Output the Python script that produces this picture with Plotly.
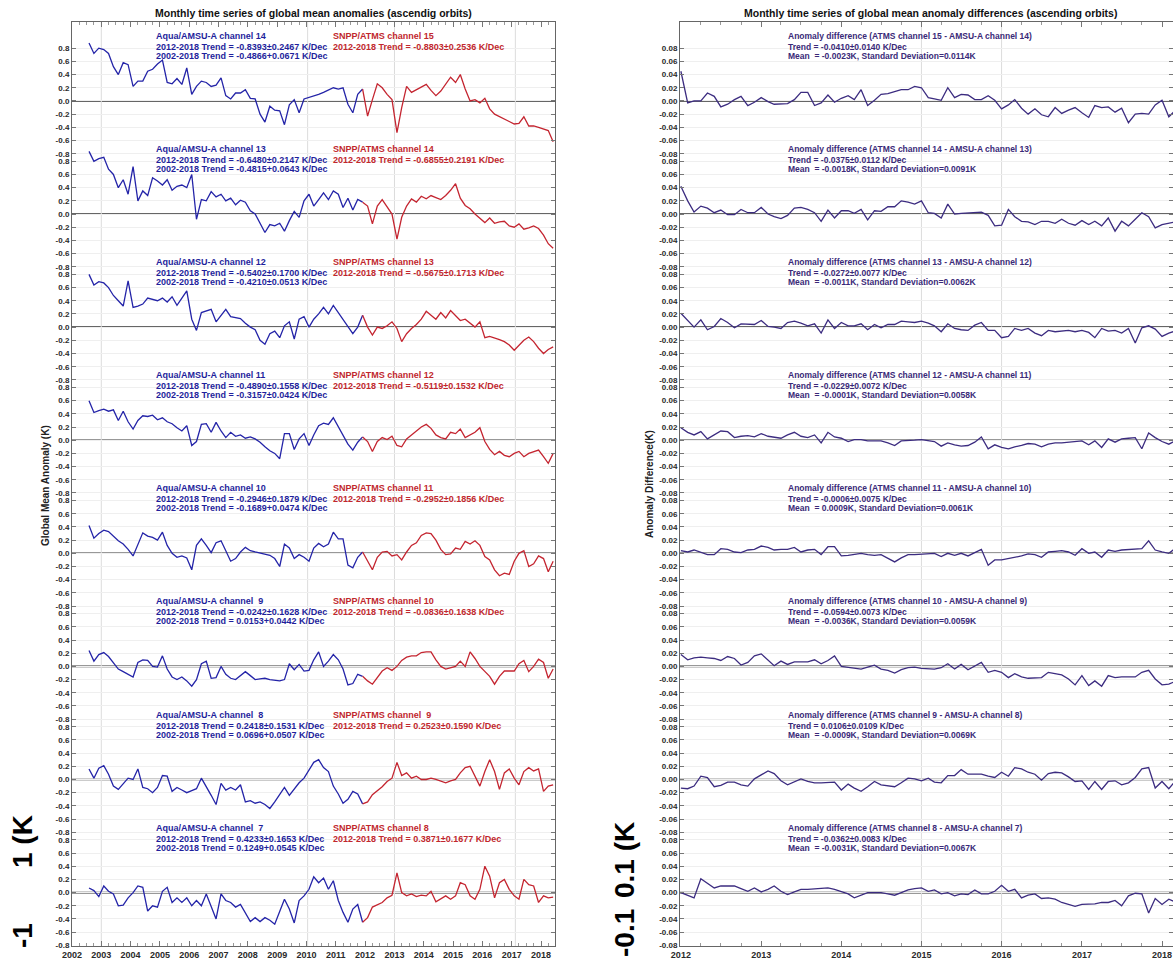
import pandas as pd
import plotly.graph_objects as go

W, H = 1173, 960

# ---------------- data ----------------
aqua_dates = pd.date_range("2002-08-01", periods=57, freq="2MS")
atms_dates = pd.date_range("2011-12-01", periods=40, freq="2MS")
diff_dates = pd.date_range("2012-01-01", periods=75, freq="MS")

aqua_ch14 = [0.88, 0.72, 0.80, 0.78, 0.72, 0.52, 0.40, 0.58, 0.55, 0.22,
             0.30, 0.30, 0.45, 0.48, 0.56, 0.62, 0.28, 0.26, 0.34, 0.25,
             0.50, 0.10, 0.22, 0.30, 0.28, 0.22, 0.24, 0.35, 0.08, 0.03,
             0.12, 0.12, 0.17, 0.04, 0.03, -0.20, -0.32, -0.08, -0.14, -0.15,
             -0.36, -0.06, 0.02, -0.18, 0.03, 0.05, 0.08, 0.10, 0.13, 0.17,
             0.20, 0.18, 0.20, -0.05, -0.18, 0.10, 0.18]
atms_ch15 = [0.18, -0.23, 0.02, 0.26, 0.20, 0.10, 0.02, -0.48, -0.10, 0.22,
             0.13, 0.17, 0.22, 0.25, 0.16, 0.08, 0.15, 0.26, 0.36, 0.28,
             0.40, 0.18, 0.00, 0.02, -0.03, 0.04, -0.12, -0.20, -0.24, -0.28,
             -0.32, -0.35, -0.34, -0.24, -0.38, -0.38, -0.40, -0.42, -0.45, -0.62]

aqua_ch13 = [0.95, 0.80, 0.84, 0.86, 0.68, 0.60, 0.40, 0.52, 0.30, 0.72,
             0.20, 0.35, 0.28, 0.55, 0.50, 0.44, 0.52, 0.36, 0.42, 0.44,
             0.40, 0.60, -0.08, 0.22, 0.20, 0.34, 0.26, 0.30, 0.20, 0.24,
             0.14, 0.21, 0.18, 0.05, 0.00, -0.14, -0.28, -0.16, -0.18, -0.14,
             -0.26, -0.10, 0.04, -0.05, 0.20, 0.30, 0.12, 0.22, 0.32, 0.22,
             0.35, 0.30, 0.10, 0.24, 0.06, 0.22, 0.18]
atms_ch14 = [0.18, 0.12, -0.15, 0.12, 0.22, 0.10, 0.00, -0.38, -0.05, 0.12,
             0.23, 0.18, 0.27, 0.23, 0.28, 0.25, 0.22, 0.28, 0.36, 0.46,
             0.24, 0.13, 0.08, 0.00, -0.06, -0.13, -0.06, -0.14, -0.12, -0.11,
             -0.18, -0.20, -0.15, -0.23, -0.21, -0.18, -0.22, -0.32, -0.45, -0.52]

aqua_ch12 = [0.80, 0.64, 0.69, 0.67, 0.60, 0.48, 0.40, 0.32, 0.70, 0.30,
             0.32, 0.35, 0.44, 0.42, 0.40, 0.44, 0.38, 0.46, 0.33, 0.44,
             0.55, 0.12, -0.05, 0.22, 0.24, 0.27, 0.08, 0.18, 0.27, 0.16,
             0.14, 0.13, 0.06, 0.00, -0.04, -0.20, -0.26, -0.10, -0.06, -0.16,
             0.02, 0.08, -0.18, 0.12, 0.16, 0.00, 0.12, 0.20, 0.30, 0.20,
             0.33, 0.22, 0.10, 0.00, -0.10, 0.00, 0.18]
atms_ch13 = [0.18, 0.00, -0.12, 0.00, -0.02, 0.02, 0.08, -0.02, -0.22, -0.10,
             -0.02, 0.04, 0.12, 0.24, 0.18, 0.12, 0.22, 0.14, 0.25, 0.18,
             0.10, 0.12, 0.06, 0.00, 0.08, -0.16, -0.14, -0.16, -0.19, -0.22,
             -0.27, -0.35, -0.28, -0.20, -0.15, -0.22, -0.32, -0.40, -0.34, -0.30]

aqua_ch11 = [0.60, 0.42, 0.45, 0.47, 0.44, 0.46, 0.30, 0.44, 0.28, 0.17,
             0.30, 0.37, 0.36, 0.38, 0.31, 0.34, 0.28, 0.25, 0.19, 0.14,
             0.22, -0.08, -0.02, 0.24, 0.25, 0.12, 0.27, 0.14, 0.04, 0.12,
             0.06, 0.08, 0.03, 0.05, 0.02, -0.03, -0.10, -0.16, -0.20, -0.28,
             0.10, 0.10, -0.14, 0.02, 0.10, -0.08, 0.08, 0.22, 0.26, 0.24,
             0.34, 0.20, 0.06, -0.06, -0.15, -0.03, 0.05]
atms_ch12 = [0.05, -0.02, -0.17, -0.02, 0.04, 0.01, 0.06, -0.08, -0.10, 0.02,
             0.08, 0.14, 0.20, 0.24, 0.18, 0.08, 0.04, 0.02, 0.12, 0.10,
             0.17, 0.04, 0.08, 0.12, 0.19, -0.02, -0.14, -0.22, -0.17, -0.23,
             -0.25, -0.20, -0.17, -0.25, -0.20, -0.17, -0.15, -0.25, -0.35, -0.20]

aqua_ch10 = [0.42, 0.23, 0.30, 0.35, 0.33, 0.26, 0.19, 0.14, 0.06, -0.04,
             0.12, 0.31, 0.26, 0.24, 0.20, 0.32, 0.12, 0.00, -0.06, -0.04,
             -0.07, -0.25, 0.12, 0.22, 0.12, 0.01, 0.16, 0.19, 0.04, -0.12,
             -0.08, 0.02, 0.09, 0.04, 0.02, 0.00, -0.01, -0.03, -0.08, -0.20,
             0.14, 0.08, -0.08, -0.02, -0.06, -0.12, 0.08, 0.15, 0.10, 0.14,
             0.32, 0.22, 0.22, -0.18, -0.22, -0.06, 0.02]
atms_ch11 = [0.02, -0.12, -0.25, -0.06, 0.02, 0.03, -0.04, -0.02, -0.10, 0.02,
             0.12, 0.16, 0.27, 0.31, 0.30, 0.20, 0.06, -0.02, -0.01, 0.08,
             0.06, 0.18, 0.14, 0.19, 0.12, -0.05, -0.10, -0.25, -0.34, -0.30,
             -0.32, -0.12, 0.00, 0.04, -0.20, -0.16, -0.04, -0.08, -0.28, -0.12]

aqua_ch9 = [0.24, 0.08, 0.18, 0.21, 0.15, 0.06, -0.04, -0.08, -0.12, -0.16,
            0.06, 0.10, 0.09, 0.00, -0.01, 0.16, -0.04, -0.16, -0.20, -0.16,
            -0.22, -0.30, -0.20, 0.04, 0.08, -0.18, -0.17, 0.00, -0.12, -0.18,
            -0.20, -0.14, -0.08, -0.14, -0.20, -0.19, -0.18, -0.20, -0.21, -0.22,
            -0.20, 0.04, -0.05, 0.03, -0.07, -0.06, 0.10, 0.22, 0.00, 0.08,
            0.18, 0.10, -0.04, -0.28, -0.26, -0.12, -0.15]
atms_ch10 = [-0.15, -0.22, -0.27, -0.16, -0.07, -0.02, -0.06, 0.00, 0.09, 0.14,
             0.16, 0.16, 0.21, 0.22, 0.22, 0.10, 0.00, -0.04, -0.02, 0.00,
             0.08, 0.00, 0.22, 0.12, 0.00, -0.08, -0.15, -0.27, -0.15, -0.07,
             -0.07, -0.07, 0.04, 0.09, -0.08, 0.00, 0.11, 0.06, -0.18, -0.04]

aqua_ch8 = [0.16, 0.02, 0.17, 0.21, 0.08, -0.10, -0.15, -0.06, 0.02, 0.00,
            0.16, -0.12, -0.14, -0.20, -0.12, 0.06, 0.05, -0.18, -0.12, -0.16,
            -0.20, -0.17, -0.14, 0.02, -0.10, -0.24, -0.38, -0.06, -0.16, -0.12,
            -0.16, -0.08, -0.34, -0.32, -0.36, -0.34, -0.38, -0.44, -0.34, -0.22,
            -0.12, -0.24, -0.15, -0.05, 0.02, 0.14, 0.26, 0.30, 0.18, 0.12,
            -0.10, -0.22, -0.36, -0.30, -0.18, -0.22, -0.37]
atms_ch9 = [-0.37, -0.34, -0.23, -0.17, -0.11, -0.03, 0.02, 0.26, 0.06, 0.10,
            0.02, 0.05, 0.00, 0.00, 0.02, 0.00, -0.03, -0.05, -0.02, 0.00,
            0.10, 0.18, 0.20, 0.05, -0.10, 0.12, 0.30, 0.12, -0.15, 0.10,
            0.16, 0.02, -0.08, 0.12, 0.18, 0.13, 0.16, -0.18, -0.10, -0.08]

aqua_ch7 = [0.07, 0.03, -0.06, 0.10, 0.02, -0.02, -0.20, -0.19, -0.08, 0.00,
            0.10, 0.08, -0.28, -0.20, -0.22, 0.02, 0.08, -0.15, -0.08, -0.15,
            -0.08, -0.20, -0.12, -0.20, -0.02, -0.22, -0.40, -0.02, -0.12, -0.15,
            -0.22, -0.18, -0.32, -0.44, -0.38, -0.44, -0.38, -0.42, -0.48, -0.30,
            -0.10, -0.25, -0.46, -0.12, -0.05, 0.05, 0.24, 0.15, 0.22, 0.05,
            0.18, -0.12, -0.30, -0.45, -0.25, -0.18, -0.45]
atms_ch8 = [-0.45, -0.38, -0.22, -0.18, -0.15, -0.08, -0.04, 0.30, 0.00, -0.05,
            -0.02, -0.06, -0.04, -0.05, 0.02, -0.14, -0.10, -0.05, -0.10, -0.05,
            0.15, 0.12, -0.05, -0.10, 0.05, 0.40, 0.25, -0.08, 0.15, 0.20,
            0.05, -0.05, -0.10, 0.20, 0.12, 0.10, -0.15, -0.05, -0.08, -0.07]

diff_15_14 = [0.045, -0.003, 0.000, 0.000, 0.012, 0.007, -0.009, -0.005, 0.002, 0.007,
              -0.007, -0.002, 0.005, -0.001, -0.005, -0.005, -0.004, 0.002, 0.013, 0.013,
              -0.007, -0.003, 0.009, -0.002, 0.004, 0.008, 0.002, 0.017, -0.007, 0.001,
              0.010, 0.011, 0.014, 0.017, 0.017, 0.022, 0.020, 0.005, 0.003, 0.001,
              0.020, 0.005, 0.010, 0.009, 0.002, 0.002, 0.008, 0.001, -0.012, -0.006,
              0.002, -0.011, -0.020, -0.012, -0.021, -0.024, -0.010, -0.019, -0.014, -0.010,
              -0.018, -0.025, -0.007, -0.010, -0.009, -0.017, -0.011, -0.033, -0.020, -0.019,
              -0.020, -0.006, 0.001, -0.024, -0.015]
diff_14_13 = [0.042, 0.020, 0.003, 0.012, 0.009, 0.002, 0.006, -0.001, -0.001, 0.007,
              0.002, 0.002, 0.010, 0.000, -0.004, -0.007, -0.002, 0.009, 0.010, 0.007,
              0.002, -0.011, 0.006, -0.006, 0.005, 0.005, 0.001, 0.007, -0.009, 0.005,
              0.004, 0.011, 0.011, 0.020, 0.018, 0.015, 0.020, 0.002, 0.001, -0.006,
              0.015, 0.000, 0.001, 0.002, 0.002, 0.003, -0.002, -0.018, -0.017, 0.007,
              -0.004, -0.011, -0.012, -0.016, -0.011, -0.011, -0.014, -0.008, -0.014, -0.017,
              -0.010, -0.016, -0.011, -0.018, -0.006, -0.026, -0.011, -0.018, -0.008, 0.002,
              -0.004, -0.021, -0.016, -0.014, -0.012]
diff_13_12 = [0.021, 0.010, 0.000, 0.011, -0.004, 0.001, 0.013, 0.007, -0.001, 0.005,
              0.005, 0.004, 0.010, 0.001, 0.000, -0.002, 0.007, 0.009, 0.006, 0.002,
              0.005, -0.009, 0.011, -0.002, 0.007, 0.002, 0.002, 0.005, -0.004, 0.004,
              -0.001, 0.004, 0.004, 0.009, 0.008, 0.007, 0.009, 0.006, 0.002, -0.007,
              0.005, -0.002, -0.004, -0.005, 0.003, 0.007, -0.005, -0.005, -0.016, -0.014,
              -0.002, -0.005, -0.002, -0.009, -0.013, -0.005, -0.007, -0.006, -0.005, -0.007,
              -0.005, -0.008, -0.016, -0.002, -0.006, -0.005, -0.009, -0.002, -0.024, -0.001,
              0.002, -0.003, -0.014, -0.009, -0.006]
diff_12_11 = [0.019, 0.012, 0.008, 0.013, 0.002, 0.008, 0.014, 0.013, 0.004, 0.006,
              0.007, 0.005, 0.010, 0.006, 0.005, 0.003, 0.008, 0.012, 0.006, 0.004,
              0.008, -0.004, 0.012, 0.005, 0.003, -0.002, 0.001, 0.001, -0.001, -0.001,
              -0.001, -0.004, -0.008, -0.001, -0.001, 0.000, 0.001, -0.001, -0.002, -0.009,
              -0.004, -0.007, -0.009, -0.008, -0.003, 0.005, -0.013, -0.007, -0.011, -0.013,
              -0.010, -0.008, -0.005, -0.006, -0.010, -0.006, -0.004, -0.004, -0.003, -0.003,
              -0.001, -0.007, -0.001, -0.011, 0.002, -0.003, 0.002, 0.003, 0.004, -0.013,
              0.011, 0.004, -0.002, -0.006, -0.001]
diff_11_10 = [0.004, 0.002, 0.005, 0.002, -0.002, -0.002, 0.007, 0.006, 0.002, 0.001,
              0.005, 0.006, 0.011, 0.009, 0.005, 0.006, 0.006, 0.009, 0.002, 0.005,
              0.006, -0.002, 0.010, 0.010, -0.004, -0.003, -0.002, 0.000, -0.002, -0.003,
              -0.002, -0.007, -0.013, -0.007, -0.002, -0.002, -0.001, -0.001, 0.000, -0.005,
              0.000, -0.003, 0.000, -0.004, 0.001, 0.006, -0.018, -0.010, -0.010, -0.008,
              -0.006, -0.004, -0.001, -0.002, -0.006, 0.002, 0.003, 0.004, 0.002, -0.003,
              0.007, 0.000, 0.002, -0.006, 0.005, 0.003, 0.005, 0.006, 0.007, 0.007,
              0.019, 0.005, 0.002, 0.000, 0.007]
diff_10_9 = [0.018, 0.010, 0.013, 0.014, 0.013, 0.012, 0.009, 0.015, 0.012, 0.002,
             0.006, 0.016, 0.019, 0.010, 0.001, 0.008, 0.003, 0.007, 0.007, 0.007,
             0.010, 0.004, 0.009, 0.016, 0.000, -0.001, -0.003, -0.004, -0.001, 0.002,
             -0.004, -0.006, -0.010, -0.005, -0.002, -0.001, -0.003, -0.003, -0.004, -0.002,
             0.004, -0.004, 0.003, -0.005, 0.000, 0.006, -0.009, -0.006, -0.009, -0.017,
             -0.011, -0.016, -0.018, -0.018, -0.017, -0.009, -0.011, -0.013, -0.019, -0.028,
             -0.014, -0.029, -0.022, -0.030, -0.014, -0.017, -0.016, -0.016, -0.016, -0.009,
             -0.006, -0.019, -0.028, -0.027, -0.023]
diff_9_8 = [-0.013, -0.014, -0.010, 0.005, 0.003, -0.011, -0.009, -0.004, -0.004, -0.008,
            -0.010, 0.001, 0.007, 0.013, 0.009, -0.002, -0.008, -0.003, 0.001, -0.003,
            -0.005, -0.005, -0.004, -0.004, -0.016, -0.007, -0.013, -0.018, -0.011, -0.003,
            -0.008, -0.009, -0.011, -0.005, 0.002, 0.001, -0.002, 0.002, -0.004, -0.005,
            0.006, 0.006, 0.015, 0.008, 0.008, 0.008, 0.005, 0.003, 0.011, 0.005,
            0.018, 0.016, 0.011, 0.008, -0.001, 0.009, 0.011, 0.010, 0.004, -0.003,
            -0.002, -0.015, -0.003, -0.015, -0.003, -0.002, -0.008, -0.005, 0.003, 0.016,
            0.018, -0.013, -0.003, -0.014, -0.003]
diff_8_7 = [0.000, -0.004, -0.008, 0.021, 0.014, 0.007, 0.010, 0.010, 0.010, 0.006,
            0.002, 0.007, 0.001, 0.005, 0.010, 0.002, -0.003, 0.001, 0.005, 0.005,
            0.006, 0.007, 0.007, 0.005, 0.002, -0.002, -0.008, -0.004, 0.000, 0.000,
            0.000, -0.002, -0.004, 0.000, 0.004, 0.006, 0.007, 0.002, 0.004, -0.002,
            0.000, -0.005, -0.002, -0.003, 0.004, -0.002, -0.002, 0.002, 0.011, 0.002,
            0.005, -0.008, -0.004, -0.002, -0.009, -0.008, -0.010, -0.015, -0.018, -0.021,
            -0.018, -0.018, -0.017, -0.015, -0.015, -0.012, -0.020, -0.005, -0.001, -0.002,
            -0.031, -0.009, -0.018, -0.010, -0.014]

aqua_labels = ["Aqua/AMSU-A channel 14", "Aqua/AMSU-A channel 13", "Aqua/AMSU-A channel 12",
               "Aqua/AMSU-A channel 11", "Aqua/AMSU-A channel 10", "Aqua/AMSU-A channel\u00a0 9",
               "Aqua/AMSU-A channel\u00a0 8", "Aqua/AMSU-A channel\u00a0 7"]
aqua_trend_12_18 = ["-0.8393±0.2467", "-0.6480±0.2147", "-0.5402±0.1700", "-0.4890±0.1558",
                    "-0.2946±0.1879", "-0.0242±0.1628", "0.2418±0.1531", "0.4233±0.1653"]
aqua_trend_02_18 = ["-0.4866+0.0671", "-0.4815+0.0643", "-0.4210±0.0513", "-0.3157±0.0424",
                    "-0.1689+0.0474", "0.0153+0.0442", "0.0696+0.0507", "0.1249+0.0545"]
atms_labels = ["SNPP/ATMS channel 15", "SNPP/ATMS channel 14", "SNPP/ATMS channel 13",
               "SNPP/ATMS channel 12", "SNPP/ATMS channel 11", "SNPP/ATMS channel 10",
               "SNPP/ATMS channel\u00a0 9", "SNPP/ATMS channel 8"]
atms_trend_12_18 = ["-0.8803±0.2536", "-0.6855±0.2191", "-0.5675±0.1713", "-0.5119±0.1532",
                    "-0.2952±0.1856", "-0.0836±0.1638", "0.2523±0.1590", "0.3871±0.1677"]
diff_pairs = ["ATMS channel 15 - AMSU-A channel 14", "ATMS channel 14 - AMSU-A channel 13",
              "ATMS channel 13 - AMSU-A channel 12", "ATMS channel 12 - AMSU-A channel 11",
              "ATMS channel 11 - AMSU-A channel 10", "ATMS channel 10 - AMSU-A channel 9",
              "ATMS channel 9 - AMSU-A channel 8", "ATMS channel 8 - AMSU-A channel 7"]
diff_trends = ["-0.0410±0.0140", "-0.0375±0.0112", "-0.0272±0.0077", "-0.0229±0.0072",
               "-0.0006±0.0075", "-0.0594±0.0073", "0.0106±0.0109", "-0.0362±0.0083"]
diff_means = ["-0.0023", "-0.0018", "-0.0011", "-0.0001", "0.0009", "-0.0036", "-0.0009", "-0.0031"]
diff_stds = ["0.0114", "0.0091", "0.0062", "0.0058", "0.0061", "0.0059", "0.0069", "0.0067"]

left_tick_values = [0.8, 0.6, 0.4, 0.2, 0.0, -0.2, -0.4, -0.6, -0.8]
right_tick_values = [0.08, 0.06, 0.04, 0.02, 0.0, -0.02, -0.04, -0.06, -0.08]
left_vgrid = ["2003-01-01", "2010-01-15", "2013-01-01", "2017-02-15"]
right_vgrid = ["2015-01-01", "2016-01-01"]

aqua_series = [aqua_ch14, aqua_ch13, aqua_ch12, aqua_ch11, aqua_ch10, aqua_ch9, aqua_ch8, aqua_ch7]
atms_series = [atms_ch15, atms_ch14, atms_ch13, atms_ch12, atms_ch11, atms_ch10, atms_ch9, atms_ch8]
diff_series = [diff_15_14, diff_14_13, diff_13_12, diff_12_11, diff_11_10, diff_10_9, diff_9_8, diff_8_7]

# ---------------- layout constants ----------------
STEP_L = 1.715
STEP_R = STEP_L / 10
left_off = [-k * STEP_L for k in range(8)]
right_off = [-k * STEP_R for k in range(8)]

BLUE = "#2424a8"
RED = "#c42530"
PURPLE = "#3c2c80"
BLUE_T = "#1f1f9c"
RED_T = "#c1272d"
PURP_T = "#3a2a78"
FONT = "Liberation Sans, Arial, sans-serif"


def px_x(p):
    return p / W


def px_y(p):
    return 1 - p / H


fig = go.Figure()

for k in range(8):
    fig.add_trace(go.Scatter(x=aqua_dates, y=[v + left_off[k] for v in aqua_series[k]],
                             mode="lines", line=dict(color=BLUE, width=1.3),
                             xaxis="x", yaxis="y", showlegend=False))
    fig.add_trace(go.Scatter(x=atms_dates, y=[v + left_off[k] for v in atms_series[k]],
                             mode="lines", line=dict(color=RED, width=1.3),
                             xaxis="x", yaxis="y", showlegend=False))
    fig.add_trace(go.Scatter(x=diff_dates, y=[v + right_off[k] for v in diff_series[k]],
                             mode="lines", line=dict(color=PURPLE, width=1.3),
                             xaxis="x2", yaxis="y2", showlegend=False))

shapes = []
for k in range(8):
    shapes.append(dict(type="line", xref="x domain", yref="y", x0=0, x1=1,
                       y0=left_off[k], y1=left_off[k], line=dict(color="#333333", width=1.6),
                       layer="below"))
    shapes.append(dict(type="line", xref="x2 domain", yref="y2", x0=0, x1=1,
                       y0=right_off[k], y1=right_off[k], line=dict(color="#333333", width=1.6),
                       layer="below"))
for d in left_vgrid:
    shapes.append(dict(type="line", xref="x", yref="y domain", x0=d, x1=d, y0=0, y1=1,
                       line=dict(color="#dcdcdc", width=1), layer="below"))
for d in right_vgrid:
    shapes.append(dict(type="line", xref="x2", yref="y2 domain", x0=d, x1=d, y0=0, y1=1,
                       line=dict(color="#dcdcdc", width=1), layer="below"))

ann = []


def text(x, y, s, color, size=9, xref="paper", yref="paper", bold=True, xanchor="left", angle=0):
    ann.append(dict(x=x, y=y, xref=xref, yref=yref, text=("<b>%s</b>" % s) if bold else s,
                    showarrow=False, xanchor=xanchor, yanchor="middle", textangle=angle,
                    font=dict(family=FONT, size=size, color=color)))


L1, L2, L3 = 65 / 66, 54 / 66, 45 / 66
for k in range(8):
    o = left_off[k]
    text(px_x(154), o + L1, aqua_labels[k], BLUE_T, yref="y")
    text(px_x(154), o + L2, "2012-2018 Trend = %s K/Dec" % aqua_trend_12_18[k], BLUE_T, yref="y")
    text(px_x(154), o + L3, "2002-2018 Trend = %s K/Dec" % aqua_trend_02_18[k], BLUE_T, yref="y")
    text(px_x(331), o + L1, atms_labels[k], RED_T, yref="y")
    text(px_x(331), o + L2, "2012-2018 Trend = %s K/Dec" % atms_trend_12_18[k], RED_T, yref="y")
    r = right_off[k]
    text(px_x(786), r + L1 / 10, "Anomaly difference (%s)" % diff_pairs[k], PURP_T, size=8.5, yref="y2")
    text(px_x(786), r + L2 / 10, "Trend = %s K/Dec" % diff_trends[k], PURP_T, size=8.5, yref="y2")
    text(px_x(786), r + L3 / 10, "Mean  = %sK, Standard Deviation=%sK" % (diff_means[k], diff_stds[k]),
         PURP_T, size=8.5, yref="y2")

text(px_x(313), px_y(13), "Monthly time series of global mean anomalies (ascendig orbits)", "#111",
     size=10.5, xanchor="center")
text(px_x(930), px_y(13), "Monthly time series of global mean anomaly differences (ascending orbits)", "#111",
     size=10.5, xanchor="center")
text(px_x(45), px_y(486), "Global Mean Anomaly (K)", "#222", size=10, xanchor="center", angle=-90)
text(px_x(649), px_y(484), "Anomaly Difference(K)", "#222", size=10, xanchor="center", angle=-90)
text(px_x(22), px_y(842), "1 (K", "#000", size=28, xanchor="center", angle=-90)
text(px_x(22), px_y(936), "-1", "#000", size=28, xanchor="center", angle=-90)
text(px_x(624), px_y(860), "0.1 (K", "#000", size=28, xanchor="center", angle=-90)
text(px_x(624), px_y(933), "-0.1", "#000", size=28, xanchor="center", angle=-90)

tickfont = dict(family=FONT, size=8, color="#2a2a2a", weight="bold")
y_dom = [px_y(946), px_y(22)]
left_tickvals = [o + v for o in left_off for v in left_tick_values]
left_ticktext = ["%.1f" % v for o in left_off for v in left_tick_values]
right_tickvals = [o + v for o in right_off for v in right_tick_values]
right_ticktext = ["%.2f" % v for o in right_off for v in right_tick_values]

common_y = dict(showgrid=True, gridcolor="#efefef", gridwidth=1, zeroline=False,
                showline=True, linecolor="#666", linewidth=1, mirror="ticks",
                ticks="inside", ticklen=4, tickcolor="#777", tickfont=tickfont,
                automargin=False, tickmode="array")
common_x = dict(type="date", showgrid=False, zeroline=False, showline=True, linecolor="#666",
                linewidth=1, mirror="ticks", ticks="inside", ticklen=5, tickcolor="#777",
                tickformat="%Y", dtick="M12", tick0="2002-01-01",
                tickfont=dict(family=FONT, size=9, color="#2a2a2a", weight="bold"),
                automargin=False,
                minor=dict(dtick="M3", ticks="inside", ticklen=3, tickcolor="#999", showgrid=False))

fig.update_layout(
    template="none",
    width=W, height=H, autosize=False,
    margin=dict(l=0, r=0, t=0, b=0, pad=0),
    paper_bgcolor="white", plot_bgcolor="rgba(0,0,0,0)",
    showlegend=False,
    xaxis=dict(common_x, domain=[px_x(72), px_x(555)], range=["2002-01-01", "2018-06-24"], anchor="y"),
    yaxis=dict(common_y, domain=y_dom, range=[-7 * STEP_L - 0.81, 1.197], anchor="x",
               tickvals=left_tickvals, ticktext=left_ticktext),
    xaxis2=dict(common_x, domain=[px_x(680), 1.0], range=["2011-12-28", "2018-02-20"], anchor="y2"),
    yaxis2=dict(common_y, domain=y_dom, range=[(-7 * STEP_L - 0.81) / 10, 0.1197], anchor="x2",
                tickvals=right_tickvals, ticktext=right_ticktext),
    shapes=shapes,
    annotations=ann,
)

fig.write_html("out.html", config={"displayModeBar": False},
               post_script="document.body.style.margin='0';document.body.style.overflow='hidden';")
